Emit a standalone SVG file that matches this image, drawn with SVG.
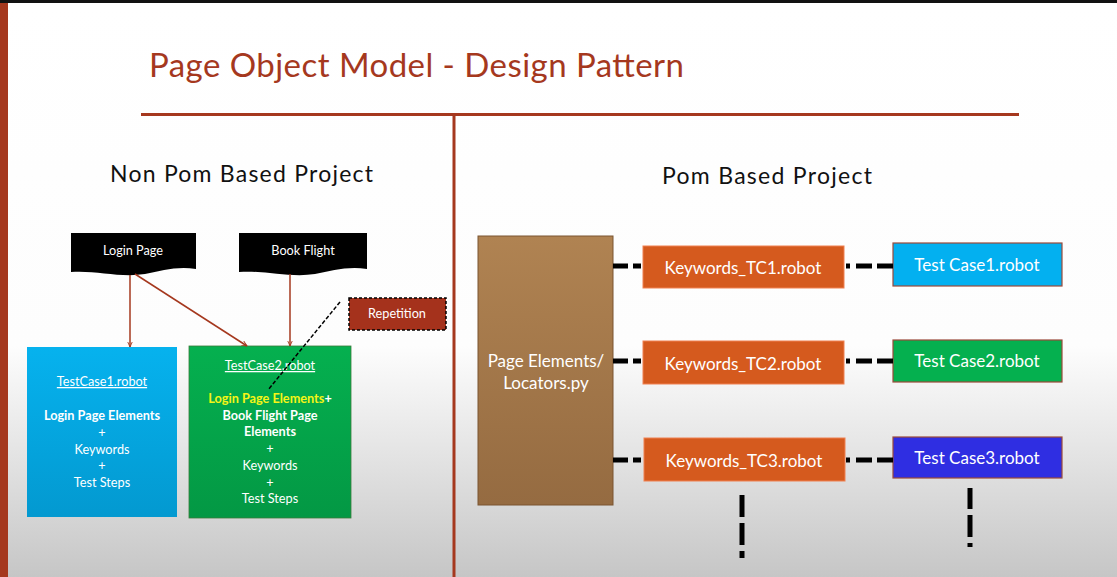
<svg xmlns="http://www.w3.org/2000/svg" width="1117" height="577" viewBox="0 0 1117 577">
  <defs>
    <linearGradient id="bg" x1="0" y1="0" x2="0" y2="1">
      <stop offset="0" stop-color="#ffffff"/>
      <stop offset="0.6" stop-color="#fdfdfd"/>
      <stop offset="0.8" stop-color="#e2e2e2"/>
      <stop offset="1" stop-color="#c6c6c6"/>
    </linearGradient>
    <linearGradient id="brown" x1="0" y1="0" x2="0" y2="1">
      <stop offset="0" stop-color="#b08352"/>
      <stop offset="1" stop-color="#956b41"/>
    </linearGradient>
    <linearGradient id="cyan" x1="0" y1="0" x2="0" y2="1">
      <stop offset="0" stop-color="#06b2ee"/>
      <stop offset="1" stop-color="#0399d0"/>
    </linearGradient>
    <linearGradient id="green" x1="0" y1="0" x2="0" y2="1">
      <stop offset="0" stop-color="#05b04f"/>
      <stop offset="1" stop-color="#039844"/>
    </linearGradient>
    <marker id="arr" viewBox="0 0 10 10" refX="9" refY="5" markerWidth="6" markerHeight="6" orient="auto" markerUnits="userSpaceOnUse">
      <path d="M0,1 L9,5 L0,9" fill="none" stroke="#a5381e" stroke-width="1.5"/>
    </marker>
    <style>
      .ttl { font-family: Lato, "Liberation Sans", sans-serif; fill: #a5381e; }
      .hdr { font-family: Lato, "Liberation Sans", sans-serif; fill: #111; font-size: 23px; }
      .wt { font-family: Lato, "Liberation Sans", sans-serif; fill: #fff; text-anchor: middle; }
      .sm { font-size: 12.7px; }
      .md { font-size: 17px; }
      .b { font-weight: bold; }
      .rule { stroke: #a5381e; stroke-width: 3; fill: none; }
      .link { stroke: #a5381e; stroke-width: 1.5; fill: none; marker-end: url(#arr); }
      .dash { stroke: #000; stroke-width: 5; fill: none; }
      .kw { fill: #d55a1e; stroke: #f08050; stroke-width: 1; }
      .tc { stroke: #9b4a3a; stroke-width: 1.2; }
    </style>
  </defs>

  <!-- slide background and frame -->
  <rect width="1117" height="577" fill="url(#bg)"/>
  <rect x="0" y="0" width="1117" height="3" fill="#111"/>
  <rect x="0" y="3" width="8" height="574" fill="#a5381e"/>

  <!-- title -->
  <text class="ttl" x="149" y="77" font-size="33" textLength="535">Page Object Model - Design Pattern</text>
  <line class="rule" x1="141" y1="114.5" x2="1019" y2="114.5"/>
  <line class="rule" x1="454" y1="114" x2="454" y2="577"/>

  <!-- section headings -->
  <text class="hdr" x="110" y="182" textLength="263">Non Pom Based Project</text>
  <text class="hdr" x="662" y="184" textLength="210">Pom Based Project</text>

  <!-- non-POM project -->
  <g id="login-page">
    <path d="M71,233 H196 V269 C176,266 162,271 145,274 C120,278 95,270 71,272 Z" fill="#000"/>
    <text class="wt sm" x="133" y="255">Login Page</text>
  </g>
  <g id="book-flight">
    <path d="M239,233 H367 V269 C347,266 332,271 315,274 C290,278 264,270 239,272 Z" fill="#000"/>
    <text class="wt sm" x="303" y="255">Book Flight</text>
  </g>
  <g id="repetition">
    <rect x="349" y="298" width="97" height="32" fill="#a5321c" stroke="#000" stroke-width="1.5" stroke-dasharray="3 2"/>
    <text class="wt sm" x="397" y="318">Repetition</text>
  </g>
  <g id="testcase1">
    <rect x="27" y="347" width="150" height="170" fill="url(#cyan)"/>
    <text class="wt sm" x="102" y="386" text-decoration="underline">TestCase1.robot</text>
    <text class="wt sm b" x="102" y="420">Login Page Elements</text>
    <text class="wt sm" x="102" y="437">+</text>
    <text class="wt sm" x="102" y="454">Keywords</text>
    <text class="wt sm" x="102" y="470">+</text>
    <text class="wt sm" x="102" y="487">Test Steps</text>
  </g>
  <g id="testcase2">
    <rect x="189" y="346" width="162" height="172" fill="url(#green)" stroke="#3a7a3a" stroke-width="0.8"/>
    <text class="wt sm" x="270" y="370" text-decoration="underline">TestCase2.robot</text>
    <text class="wt sm b" x="270" y="403"><tspan fill="#f5f516">Login Page Elements</tspan>+</text>
    <text class="wt sm b" x="270" y="420">Book Flight Page</text>
    <text class="wt sm b" x="270" y="436">Elements</text>
    <text class="wt sm" x="270" y="453">+</text>
    <text class="wt sm" x="270" y="470">Keywords</text>
    <text class="wt sm" x="270" y="487">+</text>
    <text class="wt sm" x="270" y="503">Test Steps</text>
  </g>

  <!-- POM project -->
  <g id="locators">
    <rect x="478" y="236" width="135" height="269" fill="url(#brown)" stroke="#7a5530" stroke-width="1"/>
    <text class="wt md" x="546" y="367">Page Elements/</text>
    <text class="wt md" x="546" y="389">Locators.py</text>
  </g>
  <g id="keywords-tc1">
    <rect class="kw" x="643" y="246" width="201" height="42"/>
    <text class="wt md" x="743" y="274">Keywords_TC1.robot</text>
  </g>
  <g id="keywords-tc2">
    <rect class="kw" x="643" y="341" width="201" height="43"/>
    <text class="wt md" x="743" y="370">Keywords_TC2.robot</text>
  </g>
  <g id="keywords-tc3">
    <rect class="kw" x="644" y="438" width="201" height="43"/>
    <text class="wt md" x="744" y="467">Keywords_TC3.robot</text>
  </g>
  <g id="test-case1">
    <rect class="tc" x="893" y="243" width="169" height="43" fill="#03b0f0"/>
    <text class="wt md" x="977" y="271">Test Case1.robot</text>
  </g>
  <g id="test-case2">
    <rect class="tc" x="893" y="340" width="169" height="42" fill="#05b04f"/>
    <text class="wt md" x="977" y="367">Test Case2.robot</text>
  </g>
  <g id="test-case3">
    <rect class="tc" x="893" y="437" width="169" height="41" fill="#2f2ee2"/>
    <text class="wt md" x="977" y="464">Test Case3.robot</text>
  </g>

  <!-- connectors, drawn last so the repetition pointer crosses the box -->
  <g id="connectors">
    <line class="link" x1="130" y1="275" x2="130" y2="347"/>
    <line class="link" x1="135" y1="274" x2="247" y2="346"/>
    <line class="link" x1="290" y1="274" x2="290" y2="346"/>
    <line x1="340" y1="302" x2="268" y2="390" stroke="#000" stroke-width="1.5" stroke-dasharray="4 2"/>
    <!-- locators to keywords -->
    <path class="dash" d="M613,266 H628 M633,266 H641"/>
    <path class="dash" d="M613,361 H628 M633,361 H641"/>
    <path class="dash" d="M613,460 H628 M633,460 H641"/>
    <!-- keywords to test cases -->
    <path class="dash" d="M846,266 H850 M856,266 H872 M877,266 H893"/>
    <path class="dash" d="M846,361 H850 M856,361 H872 M877,361 H893"/>
    <path class="dash" d="M846,460 H850 M856,460 H872 M877,460 H893"/>
    <!-- continuation marks -->
    <path class="dash" d="M742,495 V517 M742,523 V545 M742,551 V558"/>
    <path class="dash" d="M970,488 V509 M970,515 V537 M970,543 V547"/>
  </g>
</svg>
